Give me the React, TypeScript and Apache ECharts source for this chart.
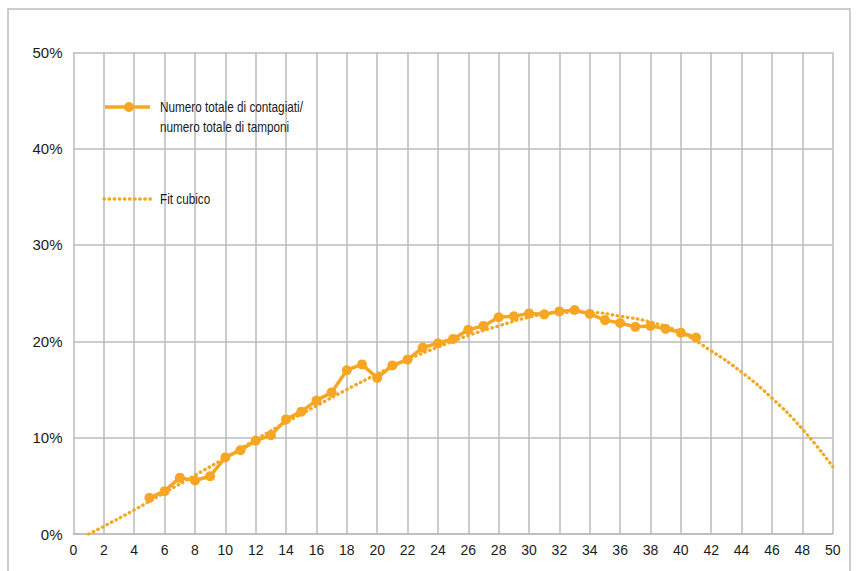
import React, { useEffect, useRef } from "react";
import * as echarts from "echarts";

const COLOR = "#F7A623";
const FONT = "'Liberation Sans', Arial, sans-serif";

const dayX = [5, 6, 7, 8, 9, 10, 11, 12, 13, 14, 15, 16, 17, 18, 19, 20, 21, 22, 23, 24, 25, 26, 27, 28, 29, 30, 31, 32, 33, 34, 35, 36, 37, 38, 39, 40, 41];
const ratioPct = [3.75, 4.45, 5.85, 5.55, 6.0, 7.95, 8.7, 9.7, 10.25, 11.9, 12.7, 13.85, 14.7, 17.0, 17.6, 16.2, 17.5, 18.1, 19.35, 19.8, 20.25, 21.2, 21.6, 22.5, 22.6, 22.9, 22.8, 23.1, 23.25, 22.85, 22.2, 21.9, 21.5, 21.6, 21.3, 20.9, 20.4];

const fitX = [1, 2, 4, 6, 8, 10, 12, 14, 16, 18, 20, 22, 24, 26, 28, 30, 32, 34, 36, 38, 40, 42, 44, 46, 48, 50];
const fitPct = [0, 0.8, 2.5, 4.3, 6.1, 7.9, 9.8, 11.6, 13.3, 15.0, 16.6, 18.1, 19.4, 20.6, 21.6, 22.5, 23.0, 23.0, 22.6, 22.0, 20.9, 19.0, 16.8, 14.1, 10.9, 7.0];

const seriesName1 = "Numero totale di contagiati/\nnumero totale di tamponi";
const seriesName2 = "Fit cubico";

export default function App() {
  const ref = useRef<HTMLDivElement>(null);
  useEffect(() => {
    if (!ref.current) return;
    const chart = echarts.init(ref.current, null, { renderer: "svg" });
    const grid = "#BBBBBB";
    chart.setOption({
      animation: false,
      backgroundColor: "#ffffff",
      grid: { left: 73.5, right: 26.3, top: 52.3, bottom: 37, containLabel: false },
      xAxis: {
        type: "value",
        min: 0,
        max: 50,
        interval: 2,
        axisLine: { show: true, lineStyle: { color: grid, width: 1.5 } },
        axisTick: { show: false },
        axisLabel: { color: "#1a1a1a", fontSize: 14, fontFamily: FONT, margin: 9 },
        splitLine: { show: true, lineStyle: { color: grid, width: 1.5 } },
      },
      yAxis: {
        type: "value",
        min: 0,
        max: 50,
        interval: 10,
        axisLine: { show: false },
        axisTick: { show: false },
        axisLabel: { color: "#1a1a1a", fontSize: 15, fontFamily: FONT, margin: 11, formatter: "{value}%" },
        splitLine: { show: true, lineStyle: { color: grid, width: 1.5 } },
      },
      series: [
        {
          name: seriesName1,
          type: "line",
          data: dayX.map((x, i) => [x, ratioPct[i]]),
          symbol: "circle",
          symbolSize: 10,
          lineStyle: { color: COLOR, width: 3.5 },
          itemStyle: { color: COLOR },
          z: 2,
        },
        {
          name: seriesName2,
          type: "line",
          data: fitX.map((x, i) => [x, fitPct[i]]),
          smooth: true,
          showSymbol: false,
          symbol: "none",
          lineStyle: { color: COLOR, width: 3.3, type: [0.5, 4.6], cap: "round" },
          z: 3,
        },
      ],
      graphic: [
        {
          type: "rect",
          shape: { x: 8, y: 9, width: 842, height: 600 },
          style: { fill: "none", stroke: "#BDBDBD", lineWidth: 1.5 },
          silent: true,
          z: -10,
        },
        {
          type: "line",
          shape: { x1: 105, y1: 107, x2: 150, y2: 107 },
          style: { stroke: COLOR, lineWidth: 3.5 },
          z: 10,
        },
        {
          type: "circle",
          shape: { cx: 129, cy: 107, r: 5 },
          style: { fill: COLOR },
          z: 11,
        },
        {
          type: "text",
          x: 160,
          y: 117,
          scaleX: 0.84,
          style: {
            text: seriesName1,
            font: `14px ${FONT}`,
            fill: "#1a1a1a",
            lineHeight: 20,
            verticalAlign: "middle",
            align: "left",
          },
          z: 10,
        },
        {
          type: "line",
          shape: { x1: 104, y1: 199, x2: 151, y2: 199 },
          style: { stroke: COLOR, lineWidth: 3.3, lineDash: [0.5, 4.6], lineCap: "round" },
          z: 10,
        },
        {
          type: "text",
          x: 160,
          y: 199,
          scaleX: 0.84,
          style: {
            text: seriesName2,
            font: `14px ${FONT}`,
            fill: "#1a1a1a",
            verticalAlign: "middle",
            align: "left",
          },
          z: 10,
        },
      ],
    });
    return () => chart.dispose();
  }, []);
  return (
    <div
      ref={ref}
      style={{ position: "absolute", left: 0, top: 0, width: 859, height: 571, background: "#fff" }}
    />
  );
}
